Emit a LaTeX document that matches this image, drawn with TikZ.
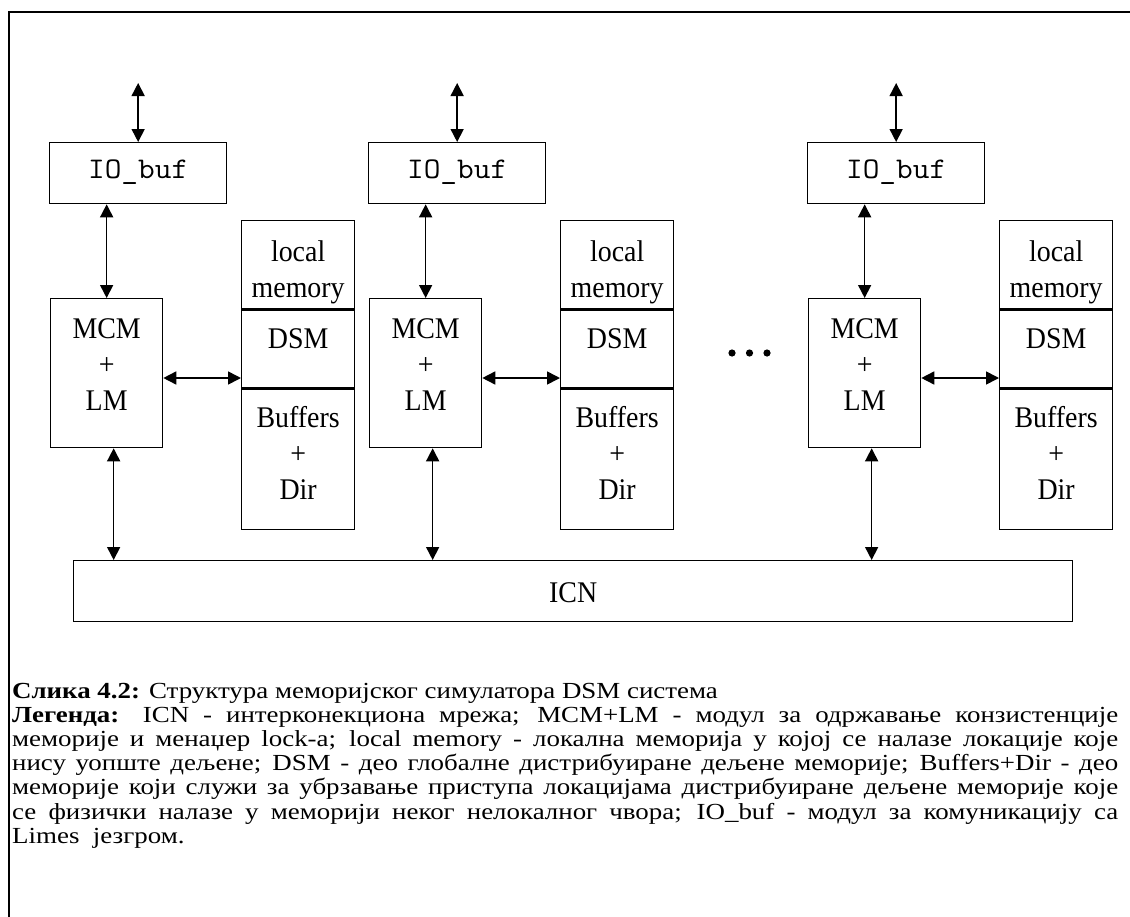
\documentclass[tikz,border=0pt]{standalone}
\usepackage{fontspec}
\setmainfont{Liberation Serif}
\newfontfamily\boxfont[FakeStretch=0.93]{Liberation Serif}
\newfontfamily\legendfont[FakeStretch=1.17]{Liberation Serif}
\newfontfamily\codefont[FakeStretch=1.08]{Latin Modern Mono}
\usetikzlibrary{arrows.meta,calc}

\begin{document}
\begin{tikzpicture}[x=1pt,y=-1pt,
  box/.style={draw, line width=1.3pt, inner sep=0pt, anchor=north west},
  boxtext/.style={inner sep=0pt, anchor=base, font=\boxfont\fontsize{30}{36}\selectfont},
  codetext/.style={inner sep=0pt, anchor=base, font=\codefont\fontsize{30}{36}\selectfont},
  linkarrow/.style={line width=1.6pt,
    {Triangle[length=13pt,width=13pt]}-{Triangle[length=13pt,width=13pt]}},
  captionline/.style={inner sep=0pt, anchor=base west, font=\legendfont\fontsize{23}{24}\selectfont},
  pageframe/.style={line width=1.6pt},
]
\useasboundingbox (0,0) rectangle (1130,916);

% page frame (left and top edges)
\draw[pageframe] (9,917) -- (9,12) -- (1131,12);

% interconnection network
\node[box, minimum width=999pt, minimum height=61pt] (icn) at (73,560) {};
\node[boxtext] (icnt) at ($(icn.north)+(0,42)$) {ICN};

% one node of the simulator per column
\foreach \id/\x in {1/50, 2/369, 3/808} {
  % IO buffer
  \node[box, minimum width=177pt, minimum height=61pt] (io\id) at (\x-1,142) {};
  \node[codetext] (iot\id) at ($(io\id.north)+(0,36)$) {IO\_buf};
  \coordinate (top\id) at ($(io\id.north)+(0,-59)$);
  \draw[linkarrow] (top\id) -- (io\id.north);

  % consistency module + lock manager
  \node[box, minimum width=112pt, minimum height=149pt] (mcm\id) at (\x,298) {};
  \node[boxtext] (mcma\id) at ($(mcm\id.north)+(0,40)$) {MCM};
  \node[boxtext] (mcmb\id) at ($(mcm\id.north)+(0,76)$) {+};
  \node[boxtext] (mcmc\id) at ($(mcm\id.north)+(0,112)$) {LM};
  \draw[linkarrow] (io\id.south -| mcm\id.north) -- (mcm\id.north);

  % memory column
  \node[box, minimum width=113pt, minimum height=88pt] (mem\id) at (\x+191,220) {};
  \node[boxtext] (mema\id) at ($(mem\id.north)+(0,41)$) {local};
  \node[boxtext] (memb\id) at ($(mem\id.north)+(0,77)$) {memory};
  \node[box, minimum width=113pt, minimum height=78pt] (dsm\id) at (mem\id.south west) {};
  \node[boxtext] (dsmt\id) at ($(dsm\id.north)+(0,39)$) {DSM};
  \node[box, minimum width=113pt, minimum height=140pt] (buf\id) at (dsm\id.south west) {};
  \node[boxtext] (bufa\id) at ($(buf\id.north)+(0,39)$) {Buffers};
  \node[boxtext] (bufb\id) at ($(buf\id.north)+(0,75)$) {+};
  \node[boxtext] (bufc\id) at ($(buf\id.north)+(0,111)$) {Dir};

  % links to memory and to the network
  \coordinate (h\id) at ($(mcm\id.north east)+(0,80)$);
  \draw[linkarrow] (h\id) -- (h\id -| dsm\id.west);
  \coordinate (b\id) at ($(mcm\id.south)+(7,0)$);
  \draw[linkarrow] (b\id) -- (b\id |- icn.north);
}

% ellipsis between the columns
\fill (732,353) circle (3.6pt);
\fill (749.5,353) circle (3.6pt);
\fill (767,353) circle (3.6pt);

% caption and legend
\node[captionline] (c1) at (12,698) {\textbf{Слика 4.2:} Структура меморијског симулатора DSM система};
\node[captionline] (c2) at (12,722.2) {\makebox[1106pt][s]{\textbf{Легенда:} ICN - интерконекциона мрежа; MCM+LM - модул за одржавање конзистенције}};
\node[captionline] (c3) at (12,746.4) {\makebox[1106pt][s]{меморије и менаџер lock-а; local memory - локална меморија у којој се налазе локације које}};
\node[captionline] (c4) at (12,770.6) {\makebox[1106pt][s]{нису уопште дељене; DSM - део глобалне дистрибуиране дељене меморије; Buffers+Dir - део}};
\node[captionline] (c5) at (12,794.8) {\makebox[1106pt][s]{меморије који служи за убрзавање приступа локацијама дистрибуиране дељене меморије које}};
\node[captionline] (c6) at (12,819) {\makebox[1106pt][s]{се физички налазе у меморији неког нелокалног чвора; IO\_buf - модул за комуникацију са}};
\node[captionline] (c7) at (12,843.2) {Limes\ \ језгром.};
\end{tikzpicture}
\end{document}
